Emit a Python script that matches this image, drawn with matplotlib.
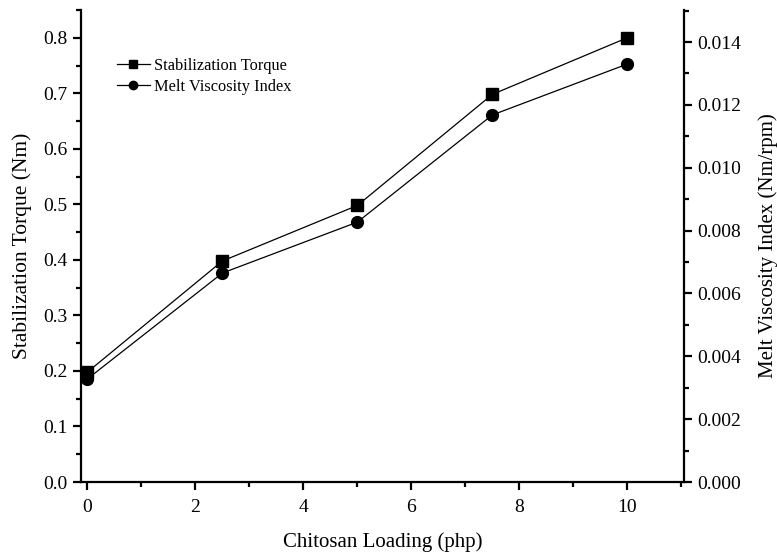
import matplotlib
matplotlib.use("Agg")
import matplotlib.pyplot as plt
from matplotlib.ticker import MultipleLocator
from matplotlib.lines import Line2D

plt.rcParams['font.family'] = ['Liberation Serif', 'DejaVu Serif']

# data
loading = [0, 2.5, 5, 7.5, 10]
torque = [0.198, 0.398, 0.498, 0.698, 0.800]
mvi = [0.00328, 0.00665, 0.00827, 0.01168, 0.0133]

fig = plt.figure(figsize=(7.77, 5.52), dpi=100)
ax = fig.add_axes([0.1042, 0.1268, 0.7761, 0.8551])
ax2 = ax.twinx()

ax.plot(loading, torque, color='black', lw=0.9, marker='s', ms=8.5)
ax2.plot(loading, mvi, color='black', lw=0.9, marker='o', ms=8.5)

ax.set_xlim(-0.12, 11.05)
ax.set_ylim(0, 0.85)
ax2.set_ylim(0, 0.01502)

ax.xaxis.set_major_locator(MultipleLocator(2))
ax.xaxis.set_minor_locator(MultipleLocator(1))
ax.yaxis.set_major_locator(MultipleLocator(0.1))
ax.yaxis.set_minor_locator(MultipleLocator(0.05))
ax2.yaxis.set_major_locator(MultipleLocator(0.002))
ax2.yaxis.set_minor_locator(MultipleLocator(0.001))
ax.yaxis.set_major_formatter(lambda v, p: f"{v:.1f}")
ax2.yaxis.set_major_formatter(lambda v, p: f"{v:.3f}")

for a in (ax, ax2):
    a.spines['top'].set_visible(False)
    for s in ('left', 'right', 'bottom'):
        a.spines[s].set_linewidth(1.6)
    a.tick_params(which='major', direction='out', length=6, width=1.6, labelsize=14)
    a.tick_params(which='minor', direction='out', length=3.5, width=1.6)
ax.tick_params(axis='x', pad=6)
ax.spines['right'].set_visible(False)
ax2.spines['left'].set_visible(False)
ax2.spines['bottom'].set_visible(False)

ax.set_xlabel("Chitosan Loading (php)", fontsize=15, labelpad=12)
ax.set_ylabel("Stabilization Torque (Nm)", fontsize=15.5, labelpad=8)
ax2.set_ylabel("Melt Viscosity Index (Nm/rpm)", fontsize=15, labelpad=12)

handles = [
    Line2D([], [], color='black', lw=0.9, marker='s', ms=6),
    Line2D([], [], color='black', lw=0.9, marker='o', ms=6),
]
ax.legend(handles, ["Stabilization Torque", "Melt Viscosity Index"],
          loc='upper left', bbox_to_anchor=(0.035, 0.93), frameon=False,
          fontsize=11.8, handlelength=2.0, handletextpad=0.25, labelspacing=0.3)

fig.savefig("out.png", dpi=100)
